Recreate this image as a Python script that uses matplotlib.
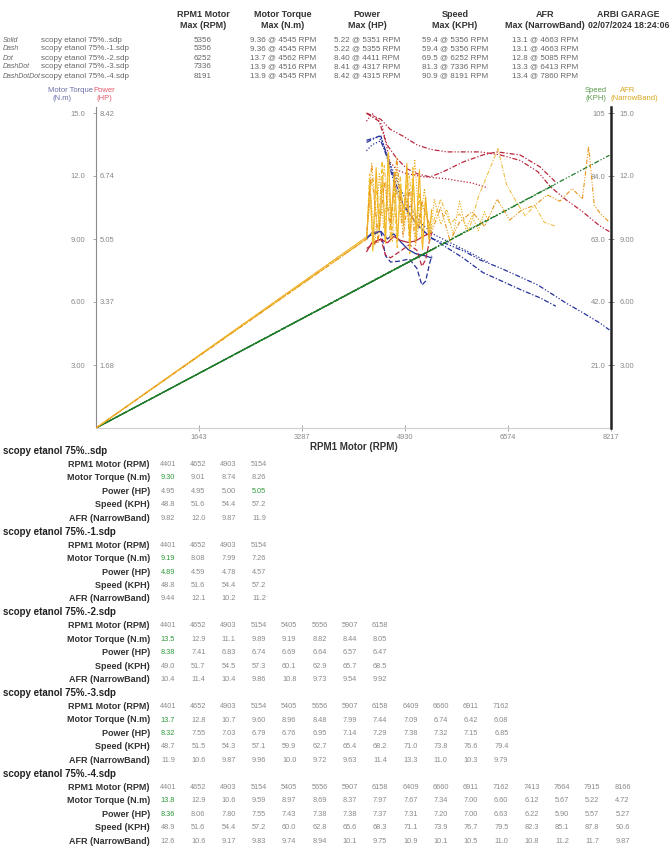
import numpy as np
import matplotlib.pyplot as plt
from matplotlib.ticker import FuncFormatter

plt.rcParams['font.family'] = ['Liberation Sans', 'DejaVu Sans']

# runs loaded into the dyno session
run_files = ['scopy etanol 75%..sdp', 'scopy etanol 75%.-1.sdp', 'scopy etanol 75%.-2.sdp',
             'scopy etanol 75%.-3.sdp', 'scopy etanol 75%.-4.sdp']
run_styles = ['Solid', 'Dash', 'Dot', 'DashDot', 'DashDotDot']
rpm_max = [5356, 5356, 6252, 7336, 8191]

torque_max = [9.36, 9.36, 13.7, 13.9, 13.9]
torque_at = [4545, 4545, 4562, 4516, 4545]
power_max = [5.22, 5.22, 8.40, 8.41, 8.42]
power_at = [5351, 5355, 4411, 4317, 4315]
speed_max = [59.4, 59.4, 69.5, 81.3, 90.9]
speed_at = [5356, 5356, 6252, 7336, 8191]
afr_max = [13.1, 13.1, 12.8, 13.3, 13.4]
afr_at = [4663, 4663, 5085, 6413, 7860]

# torque / power samples per run
tp_rpm = [
    [4320, 4400, 4545, 4650, 4750, 4850, 4980, 5100, 5250, 5356],
    [4320, 4545, 4620, 4700, 4850, 5000, 5120, 5200, 5260, 5320, 5356],
    [4315, 4411, 4562, 4691, 4800, 4950, 5058, 5200, 5400, 5600, 5800, 6000, 6252],
    [4317, 4516, 4643, 4800, 4962, 5120, 5329, 5540, 5856, 6175, 6398, 6765, 7084, 7336],
    [4315, 4545, 4690, 4900, 5120, 5330, 5600, 5900, 6130, 6450, 6770, 7050, 7250, 7500,
     7750, 8040, 8191],
]
torque = [
    [9.0, 9.3, 9.36, 9.0, 9.25, 8.9, 8.5, 8.3, 8.2, 8.1],
    [9.1, 9.36, 8.2, 7.9, 7.95, 8.05, 7.6, 6.8, 7.0, 7.8, 8.2],
    [13.2, 13.5, 13.7, 12.6, 11.8, 10.8, 10.3, 9.7, 9.2, 8.9, 8.6, 8.3, 7.9],
    [13.6, 13.9, 12.9, 11.2, 10.4, 9.7, 9.1, 8.7, 8.1, 7.4, 7.1, 6.6, 6.2, 5.8],
    [13.7, 13.9, 12.5, 10.6, 9.7, 9.05, 8.76, 8.38, 8.0, 7.62, 7.19, 6.81, 6.43, 5.95,
     5.52, 5.0, 4.67],
]
power = [
    [4.72, 4.95, 5.05, 4.95, 5.12, 5.02, 4.96, 5.0, 5.15, 5.22],
    [4.8, 5.05, 4.62, 4.55, 4.72, 4.9, 4.75, 4.32, 4.5, 5.0, 5.22],
    [8.2, 8.40, 8.1, 7.11, 6.9, 6.8, 6.77, 6.72, 6.69, 6.66, 6.6, 6.55, 6.42],
    [8.41, 8.2, 7.57, 7.2, 6.93, 6.8, 6.71, 6.85, 7.11, 7.30, 7.38, 7.30, 6.98, 6.57],
    [8.42, 8.25, 7.99, 7.8, 7.57, 7.45, 7.38, 7.38, 7.38, 7.3, 7.15, 6.85, 6.45, 6.1,
     5.8, 5.4, 5.25],
]

# speed traces start from the origin
speed_rpm = [[0, 4320, 5356], [0, 4320, 5356], [0, 4315, 6252], [0, 4317, 7336], [0, 4315, 8191]]
speed = [[0, 47.9, 59.4], [0, 47.9, 59.4], [0, 48.0, 69.5], [0, 47.8, 81.3], [0, 47.9, 90.9]]

# narrowband AFR, noisy at low rpm
afr_rpm = [
    [0, 4320, 4370, 4420, 4470, 4520, 4570, 4620, 4663, 4710, 4760, 4810, 4860, 4910, 4960,
     5010, 5060, 5110, 5160, 5210, 5260, 5310, 5356],
    [0, 4320, 4365, 4415, 4465, 4515, 4565, 4615, 4663, 4705, 4755, 4805, 4855, 4905, 4955,
     5005, 5055, 5105, 5155, 5205, 5255, 5305, 5356],
    [0, 4315, 4380, 4450, 4520, 4590, 4660, 4730, 4800, 4870, 4940, 5010, 5085, 5160, 5240,
     5320, 5400, 5500, 5600, 5700, 5800, 5900, 6000, 6100, 6200, 6252],
    [0, 4317, 4400, 4500, 4600, 4700, 4800, 4900, 5000, 5100, 5200, 5350, 5500, 5650, 5800,
     5950, 6100, 6250, 6413, 6550, 6700, 6850, 7000, 7150, 7336],
    [0, 4315, 4400, 4500, 4600, 4700, 4800, 4900, 5000, 5100, 5200, 5350, 5500, 5650, 5800,
     6000, 6200, 6400, 6600, 6800, 7000, 7200, 7400, 7600, 7760, 7860, 7950, 8050, 8191],
]
afr = [
    [0, 9.1, 11.8, 8.6, 12.4, 9.4, 12.0, 8.8, 13.1, 9.9, 12.2, 8.9, 11.5, 9.6, 12.6,
     8.7, 11.9, 9.3, 12.3, 8.5, 11.0, 9.0, 10.4],
    [0, 9.0, 12.1, 8.4, 11.6, 9.8, 12.7, 8.9, 13.1, 9.2, 11.4, 8.6, 12.0, 10.1, 11.8,
     8.3, 12.4, 9.0, 11.2, 8.8, 10.9, 9.5, 10.1],
    [0, 9.0, 11.2, 8.7, 12.1, 9.5, 11.6, 8.9, 12.3, 9.8, 11.0, 9.1, 12.8, 9.6, 11.4,
     8.8, 10.9, 9.7, 10.4, 9.2, 10.8, 9.5, 10.1, 9.4, 10.3, 9.9],
    [0, 9.1, 11.9, 9.4, 12.5, 8.9, 11.3, 9.8, 12.0, 9.2, 10.6, 9.5, 10.9, 9.7, 10.2,
     9.4, 11.0, 12.1, 13.3, 11.6, 10.8, 10.1, 10.6, 9.8, 9.6],
    [0, 9.0, 12.6, 8.8, 11.7, 9.6, 12.9, 9.1, 11.4, 8.7, 10.8, 9.3, 10.5, 8.9, 9.8,
     10.3, 9.6, 10.9, 9.9, 10.4, 10.6, 11.1, 10.8, 11.4, 10.9, 13.4, 10.6, 10.2, 9.8],
]

# rpm columns for the summary tables
rpm_cols = [4401, 4652, 4903, 5154, 5405, 5656, 5907, 6158, 6409, 6660, 6911, 7162,
            7413, 7664, 7915, 8166]

x_max = 8217
torque_top = 15.0
power_top = 8.42
speed_top = 105.0
afr_top = 15.0

dashes = ['-', (0, (4, 2)), (0, (1, 1.5)), (0, (4, 1.5, 1, 1.5)), (0, (4, 1.5, 1, 1.5, 1, 1.5))]
c_torque = '#24309a'
c_power = '#b8283e'
c_speed = '#1f7a2a'
c_afr = ['#f0b020', '#f3c12c', '#e9a712', '#f0bf48', '#e8961c']

W, H = 671, 861
fig = plt.figure(figsize=(W / 100, H / 100), dpi=100)


def fx(x):
    return x / W


def fy(y):
    return 1 - y / H


def fmt3(v, pos=None):
    return f"{v:#.3g}".rstrip('.')


# ---- header ----
col_x = [203, 283, 367, 455, 545]
col_titles = ['RPM1 Motor\nMax (RPM)', 'Motor Torque\nMax (N.m)', 'Power\nMax (HP)',
              'Speed\nMax (KPH)', 'AFR\nMax (NarrowBand)']
for cx, t in zip(col_x, col_titles):
    fig.text(fx(cx), fy(20), t, ha='center', va='center', fontsize=6.5, fontweight='bold',
             color='#333333', linespacing=1.15)
fig.text(fx(669), fy(20), 'ARBI GARAGE\n02/07/2024 18:24:06', ha='right', va='center',
         fontsize=6.3, fontweight='bold', color='#333333', linespacing=1.15,
         multialignment='center')

row_y = [40, 49, 58, 67, 76]
for i in range(5):
    y = fy(row_y[i])
    fig.text(fx(3), y, run_styles[i], fontsize=5.0, style='italic', color='#666666', va='center')
    fig.text(fx(41), y, run_files[i], fontsize=5.8, color='#666666', va='center')
    vals = [str(rpm_max[i]),
            f"{torque_max[i]:#.3g} @ {torque_at[i]} RPM",
            f"{power_max[i]:#.3g} @ {power_at[i]} RPM",
            f"{speed_max[i]:#.3g} @ {speed_at[i]} RPM",
            f"{afr_max[i]:#.3g} @ {afr_at[i]} RPM"]
    for cx, v in zip(col_x, vals):
        fig.text(fx(cx), y, v, ha='center', va='center', fontsize=5.8, color='#666666')

# ---- chart ----
top_px, tick_px, bot_px = 107, 113, 428
f = (bot_px - top_px) / (bot_px - tick_px)
ax = fig.add_axes([fx(96), fy(bot_px), fx(611) - fx(96), (bot_px - top_px) / H])
ax_p = ax.twinx()
ax_s = ax.twinx()
ax_a = ax.twinx()

for a in (ax_p, ax_s, ax_a):
    for sp in a.spines.values():
        sp.set_visible(False)
ax.spines['top'].set_visible(False)
ax.spines['right'].set_visible(False)
ax.spines['left'].set_color('#8a8a8a')
ax.spines['left'].set_linewidth(0.8)
ax.spines['bottom'].set_color('#d0d0d0')
ax.spines['bottom'].set_linewidth(0.8)
ax_a.spines['right'].set_visible(True)
ax_a.spines['right'].set_color('#222222')
ax_a.spines['right'].set_linewidth(1.8)

ax.set_xlim(0, x_max)
ax.set_ylim(0, torque_top * f)
ax_p.set_ylim(0, power_top * f)
ax_s.set_ylim(0, speed_top * f)
ax_a.set_ylim(0, afr_top * f)

steps = np.arange(1, 6) / 5
ax.set_xticks(x_max * steps)
ax.xaxis.set_major_formatter(FuncFormatter(lambda v, p: f"{v:.0f}"))
ax.set_yticks(torque_top * steps)
ax_p.set_yticks(power_top * steps)
ax_s.set_yticks(speed_top * steps)
ax_a.set_yticks(afr_top * steps)
for a in (ax, ax_p, ax_s, ax_a):
    a.yaxis.set_major_formatter(FuncFormatter(fmt3))

ax.tick_params(axis='x', direction='inout', length=4, width=0.6, color='#999999',
               labelsize=5.3, labelcolor='#888888', pad=2)
ax.tick_params(axis='y', length=2, width=0.6, color='#999999', pad=6,
               labelsize=5.5, labelcolor='#888888')
ax_p.yaxis.tick_left()
ax_p.tick_params(axis='y', left=True, right=False, labelleft=True, labelright=False,
                 length=0, pad=-13.5, labelsize=5.5, labelcolor='#888888')
ax_s.tick_params(axis='y', length=0, pad=-4, labelsize=5.5, labelcolor='#888888')
plt.setp(ax_s.get_yticklabels(), ha='right')
ax_a.tick_params(axis='y', direction='inout', length=4, width=0.6, color='#777777', pad=4,
                 labelsize=5.5, labelcolor='#888888')

ax.set_xlabel('RPM1 Motor (RPM)', fontsize=7, fontweight='bold', color='#333333', labelpad=1)

for i in range(5):
    ax_a.plot(afr_rpm[i], afr[i], color=c_afr[i], lw=0.8, ls=dashes[i])
for i in range(5):
    ax_s.plot(speed_rpm[i], speed[i], color=c_speed, lw=0.9, ls=dashes[i])
for i in range(5):
    ax_p.plot(tp_rpm[i], power[i], color=c_power, lw=0.9, ls=dashes[i], clip_on=False)
    ax.plot(tp_rpm[i], torque[i], color=c_torque, lw=0.9, ls=dashes[i], clip_on=False)

# axis titles
fig.text(fx(70), fy(90), 'Motor Torque', fontsize=5.5, color='#6a70a8', ha='center', va='center')
fig.text(fx(62), fy(98), '(N.m)', fontsize=5.5, color='#6a70a8', ha='center', va='center')
fig.text(fx(104), fy(90), 'Power', fontsize=5.5, color='#e05a6a', ha='center', va='center')
fig.text(fx(104), fy(98), '(HP)', fontsize=5.5, color='#e05a6a', ha='center', va='center')
fig.text(fx(596), fy(90), 'Speed', fontsize=5.5, color='#5a9a4a', ha='center', va='center')
fig.text(fx(596), fy(98), '(KPH)', fontsize=5.5, color='#5a9a4a', ha='center', va='center')
fig.text(fx(628), fy(90), 'AFR', fontsize=5.5, color='#d8a820', ha='center', va='center')
fig.text(fx(634), fy(98), '(NarrowBand)', fontsize=5.5, color='#d8a820', ha='center', va='center')

# ---- summary tables ----
row_names = ['RPM1 Motor (RPM)', 'Motor Torque (N.m)', 'Power (HP)', 'Speed (KPH)',
             'AFR (NarrowBand)']
y0, dy = 451, 13.45
x0, dx = 168, 30.3
for i in range(5):
    yb = y0 + i * 6 * dy
    fig.text(fx(3), fy(yb), run_files[i], fontsize=7, fontweight='bold', color='#222222',
             va='center')
    cols = [c for c in rpm_cols if c <= rpm_max[i]]
    rows = [np.array(cols, dtype=float),
            np.interp(cols, tp_rpm[i], torque[i]),
            np.interp(cols, tp_rpm[i], power[i]),
            np.interp(cols, speed_rpm[i], speed[i]),
            np.interp(cols, afr_rpm[i], afr[i])]
    for r in range(5):
        yr = fy(yb + (r + 1) * dy)
        fig.text(fx(150), yr, row_names[r], ha='right', va='center', fontsize=6.5,
                 fontweight='bold', color='#333333')
        vals = rows[r]
        best = int(np.argmax(vals)) if r in (1, 2) else -1
        for j, v in enumerate(vals):
            txt = str(int(v)) if r == 0 else fmt3(v)
            col = '#2e9a3a' if j == best else '#8a8a8a'
            fig.text(fx(x0 + j * dx), yr, txt, ha='center', va='center', fontsize=5.3, color=col)

fig.savefig('out.png', dpi=100)
